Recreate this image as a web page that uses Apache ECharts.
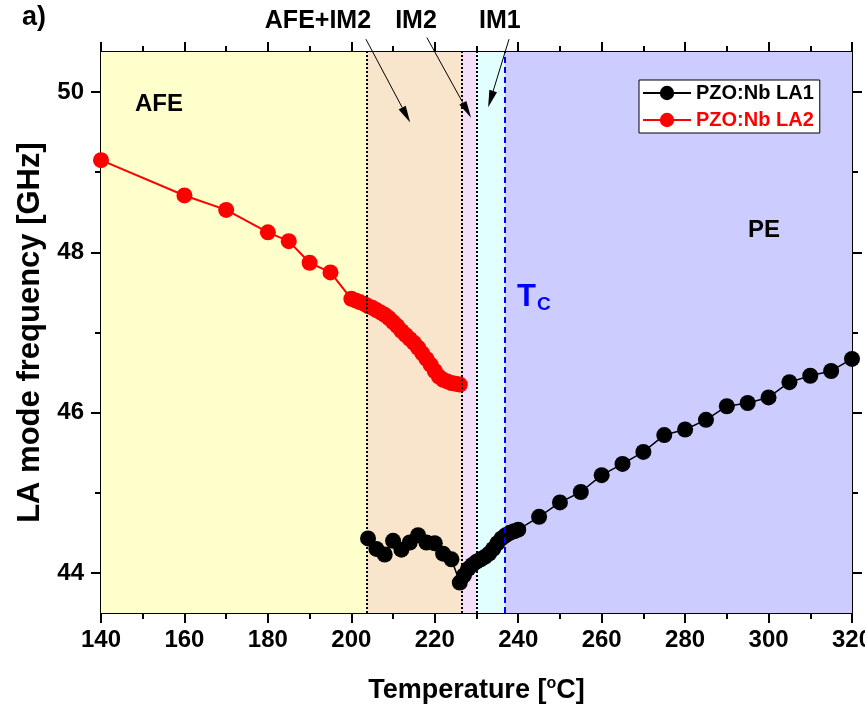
<!DOCTYPE html>
<html>
<head>
<meta charset="utf-8">
<script src="https://cdn.jsdelivr.net/npm/echarts@6/dist/echarts.min.js"></script>
<style>
  html, body { margin: 0; padding: 0; background: #fff; overflow: hidden; }
  #chart { width: 865px; height: 714px; }
</style>
</head>
<body>
<div id="chart"></div>
<script>
// Brillouin LA mode frequency of PZO:Nb versus temperature

// LA1 branch (lower frequency)
const tempLA1 = [204, 206, 208, 210, 212, 214, 216, 218, 220, 222, 224, 226, 227, 228, 229, 230, 231, 232, 233, 234, 235, 236, 237, 238, 239, 240,
  245, 250, 255, 260, 265, 270, 275, 280, 285, 290, 295, 300, 305, 310, 315, 320];
const freqLA1 = [44.43, 44.30, 44.23, 44.40, 44.29, 44.38, 44.47, 44.38, 44.37, 44.24, 44.17, 43.88, 43.97, 44.05, 44.10, 44.14, 44.17, 44.20, 44.24, 44.30, 44.37, 44.43, 44.47, 44.50, 44.52, 44.54,
  44.70, 44.88, 45.01, 45.22, 45.36, 45.51, 45.72, 45.79, 45.91, 46.08, 46.12, 46.19, 46.38, 46.46, 46.52, 46.67];

// LA2 branch (higher frequency)
const tempLA2 = [140, 160, 170, 180, 185, 190, 195, 200, 201, 202, 203, 204, 205, 206, 207, 208, 209, 210, 211, 212, 213, 214, 215, 216, 217, 218, 219, 220, 221, 222, 223, 224, 225, 226];
const freqLA2 = [49.15, 48.71, 48.53, 48.25, 48.14, 47.87, 47.75, 47.42, 47.40, 47.38, 47.36, 47.33, 47.31, 47.28, 47.25, 47.22, 47.18, 47.13, 47.08, 47.02, 46.97, 46.92, 46.87, 46.81, 46.74, 46.67, 46.60, 46.52, 46.45, 46.41, 46.39, 46.37, 46.36, 46.35];

// Phase regions: [from, to] in °C
const phaseNames = ['AFE', 'AFE+IM2', 'IM2', 'IM1', 'PE'];
const phaseFrom = [140, 203.7, 226.5, 230.0, 236.8];
const phaseTo = [203.7, 226.5, 230.0, 236.8, 320];
const phaseColors = ['#FFFFCC', '#F8E5CB', '#F4E0F9', '#E2FFFF', '#CCCCFF'];

// Phase boundaries
const boundaryTemps = [203.7, 226.5, 230.0];
const curieTemp = 236.8;

// Axis ticks
const xTicks = [140, 160, 180, 200, 220, 240, 260, 280, 300, 320];
const yMajor = [44, 46, 48, 50];
const yMinor = [45, 47, 49];

const FONT = 'Liberation Sans, Arial, sans-serif';

const chart = echarts.init(document.getElementById('chart'), null, { renderer: 'canvas' });

function pairs(xs, ys) { return xs.map((x, i) => [x, ys[i]]); }

const yBase = {
  type: 'value', min: 43.5, max: 50.5, gridIndex: 0,
  splitLine: { show: false }
};

const option = {
  animation: false,
  backgroundColor: '#ffffff',
  textStyle: { fontFamily: FONT },
  grid: { left: 101, right: 13, top: 52, bottom: 101, containLabel: false, outerBoundsMode: 'none' },
  xAxis: [
    {
      type: 'value', min: xTicks[0], max: xTicks[xTicks.length - 1], interval: 20, position: 'bottom',
      name: 'Temperature [{sup|o}C]', nameLocation: 'middle', nameGap: 63,
      nameTextStyle: {
        fontFamily: FONT, fontWeight: 'bold', fontSize: 27, color: '#000',
        rich: { sup: { fontFamily: FONT, fontWeight: 'bold', fontSize: 16, color: '#000', verticalAlign: 'top', padding: [0, 0, 14, 0] } }
      },
      axisLine: { show: true, onZero: false, lineStyle: { color: '#000', width: 2 } },
      axisTick: { show: true, inside: false, length: 10, lineStyle: { color: '#000', width: 2 } },
      minorTick: { show: true, splitNumber: 2, length: 6, lineStyle: { color: '#000', width: 2 } },
      axisLabel: { show: true, margin: 15, fontFamily: FONT, fontWeight: 'bold', fontSize: 24, color: '#000' },
      splitLine: { show: false }, minorSplitLine: { show: false }
    },
    {
      type: 'value', min: xTicks[0], max: xTicks[xTicks.length - 1], interval: 20, position: 'top',
      axisLine: { show: true, onZero: false, lineStyle: { color: '#000', width: 2 } },
      axisTick: { show: true, inside: false, length: 10, lineStyle: { color: '#000', width: 2 } },
      minorTick: { show: true, splitNumber: 2, length: 6, lineStyle: { color: '#000', width: 2 } },
      axisLabel: { show: false },
      splitLine: { show: false }, minorSplitLine: { show: false }
    }
  ],
  yAxis: [
    Object.assign({}, yBase, {
      position: 'left',
      name: 'LA mode frequency [GHz]', nameLocation: 'middle', nameGap: 55,
      nameTextStyle: { fontFamily: FONT, fontWeight: 'bold', fontSize: 31, color: '#000' },
      axisLine: { show: true, onZero: false, lineStyle: { color: '#000', width: 2 } },
      axisTick: { show: true, inside: false, length: 10, customValues: yMajor, lineStyle: { color: '#000', width: 2 } },
      axisLabel: { show: true, margin: 17, customValues: yMajor, fontFamily: FONT, fontWeight: 'bold', fontSize: 24, color: '#000' }
    }),
    Object.assign({}, yBase, {
      position: 'right',
      axisLine: { show: true, onZero: false, lineStyle: { color: '#000', width: 2 } },
      axisTick: { show: true, inside: false, length: 10, customValues: yMajor, lineStyle: { color: '#000', width: 2 } },
      axisLabel: { show: false }
    }),
    Object.assign({}, yBase, {
      position: 'left',
      axisLine: { show: false },
      axisTick: { show: true, inside: false, length: 6, customValues: yMinor, lineStyle: { color: '#000', width: 2 } },
      axisLabel: { show: false }
    }),
    Object.assign({}, yBase, {
      position: 'right',
      axisLine: { show: false },
      axisTick: { show: true, inside: false, length: 6, customValues: yMinor, lineStyle: { color: '#000', width: 2 } },
      axisLabel: { show: false }
    })
  ],
  legend: {
    left: 639, top: 80,
    orient: 'vertical',
    backgroundColor: '#ffffff',
    borderColor: '#000', borderWidth: 1, borderRadius: 0,
    padding: [3, 6, 3, 3],
    itemGap: 7, itemWidth: 48, itemHeight: 18,
    textStyle: { fontFamily: FONT, fontWeight: 'bold', fontSize: 20 },
    data: [
      { name: 'PZO:Nb LA1', textStyle: { color: '#000000' } },
      { name: 'PZO:Nb LA2', textStyle: { color: '#FF0000' } }
    ]
  },
  series: [
    {
      name: 'phases', type: 'line', data: [], xAxisIndex: 0, yAxisIndex: 0, z: 1, silent: true,
      markArea: {
        silent: true,
        data: phaseFrom.map((f, i) => [
          { xAxis: f, itemStyle: { color: phaseColors[i] } },
          { xAxis: phaseTo[i] }
        ])
      }
    },
    {
      name: 'PZO:Nb LA1', type: 'line', xAxisIndex: 0, yAxisIndex: 0, z: 3,
      data: pairs(tempLA1, freqLA1),
      symbol: 'circle', symbolSize: 16,
      itemStyle: { color: '#000000' },
      lineStyle: { color: '#000000', width: 1.5 }
    },
    {
      name: 'PZO:Nb LA2', type: 'line', xAxisIndex: 0, yAxisIndex: 0, z: 3,
      data: pairs(tempLA2, freqLA2),
      symbol: 'circle', symbolSize: 16,
      itemStyle: { color: '#FF0000' },
      lineStyle: { color: '#FF0000', width: 2 }
    },
    {
      name: 'boundaries', type: 'line', data: [], xAxisIndex: 0, yAxisIndex: 0, z: 5, silent: true,
      markLine: {
        silent: true, symbol: ['none', 'none'], label: { show: false },
        data: boundaryTemps.map(t => ({ xAxis: t, lineStyle: { color: '#000', width: 2, type: [2, 2] } }))
          .concat([{ xAxis: curieTemp, lineStyle: { color: '#0000FF', width: 2, type: [6, 4] } }])
      }
    }
  ]
};

chart.setOption(option);

// Annotations placed in data coordinates
function px(t, f) { return chart.convertToPixel({ gridIndex: 0 }, [t, f]); }

function arrow(from, to) {
  const a = px(from[0], from[1]);
  const b = px(to[0], to[1]);
  const ang = Math.atan2(b[1] - a[1], b[0] - a[0]);
  const len = 17, half = 4;
  const bx = b[0] - len * Math.cos(ang), by = b[1] - len * Math.sin(ang);
  const nx = -Math.sin(ang) * half, ny = Math.cos(ang) * half;
  return [
    { type: 'line', shape: { x1: a[0], y1: a[1], x2: bx, y2: by }, style: { stroke: '#000', lineWidth: 1 }, z: 20 },
    { type: 'polygon', shape: { points: [[b[0], b[1]], [bx + nx, by + ny], [bx - nx, by - ny]] }, style: { fill: '#000' }, z: 20 }
  ];
}

function label(t, f, text, size, color) {
  const p = px(t, f);
  return {
    type: 'text', x: p[0], y: p[1], z: 20,
    style: { text: text, fill: color, font: 'bold ' + size + 'px ' + FONT, align: 'center', verticalAlign: 'middle' }
  };
}

const graphics = [];
graphics.push({ type: 'text', left: 22, top: 4, style: { text: 'a)', fill: '#000', font: 'bold 27px ' + FONT } });
graphics.push(label(192.0, 50.88, 'AFE+IM2', 25, '#000'));
graphics.push(label(215.5, 50.88, 'IM2', 25, '#000'));
graphics.push(label(235.6, 50.88, 'IM1', 25, '#000'));
graphics.push(...arrow([203.5, 50.66], [214.1, 49.62]));
graphics.push(...arrow([218.1, 50.68], [228.7, 49.68]));
graphics.push(...arrow([237.8, 50.66], [232.8, 49.81]));
graphics.push(label(153.9, 49.85, 'AFE', 24, '#000'));
graphics.push(label(298.9, 48.27, 'PE', 24, '#000'));
{
  const p = px(239.7, 47.44);
  graphics.push({
    type: 'text', x: p[0], y: p[1], z: 20,
    style: {
      text: '{t|T}{c|C}', align: 'left', verticalAlign: 'middle',
      rich: {
        t: { font: 'bold 31px ' + FONT, fill: '#0000FF' },
        c: { font: 'bold 19px ' + FONT, fill: '#0000FF', padding: [16, 0, 0, 1] }
      }
    }
  });
}
chart.setOption({ graphic: graphics });
</script>
</body>
</html>
